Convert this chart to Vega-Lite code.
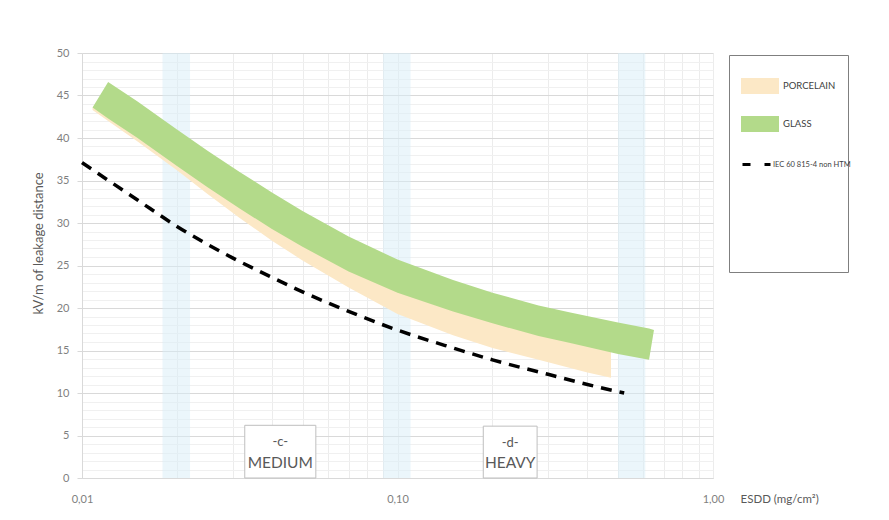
{
  "$schema": "https://vega.github.io/schema/vega-lite/v6.json",
  "width": 631,
  "height": 425,
  "autosize": {"type": "none"},
  "padding": {"left": 82, "top": 53, "right": 176, "bottom": 42},
  "background": "white",
  "config": {
    "view": {"stroke": null},
    "font": "Lato"
  },
  "datasets": {
    "zones": [
      {"x0": 0.018, "x1": 0.022},
      {"x0": 0.09, "x1": 0.11},
      {"x0": 0.5, "x1": 0.61}
    ],
    "porcelain": [
      {"series": "PORCELAIN", "x": 0.0108, "lo": 43.3, "hi": 43.6},
      {"series": "PORCELAIN", "x": 0.0121, "lo": 42.0, "hi": 43.8},
      {"series": "PORCELAIN", "x": 0.015, "lo": 39.6, "hi": 41.5},
      {"series": "PORCELAIN", "x": 0.02, "lo": 36.2, "hi": 38.2},
      {"series": "PORCELAIN", "x": 0.025, "lo": 33.4, "hi": 35.7},
      {"series": "PORCELAIN", "x": 0.0316, "lo": 30.6, "hi": 33.2},
      {"series": "PORCELAIN", "x": 0.04, "lo": 27.9, "hi": 30.8},
      {"series": "PORCELAIN", "x": 0.05, "lo": 25.6, "hi": 28.7},
      {"series": "PORCELAIN", "x": 0.07, "lo": 22.4, "hi": 25.8},
      {"series": "PORCELAIN", "x": 0.1, "lo": 19.3, "hi": 23.3},
      {"series": "PORCELAIN", "x": 0.15, "lo": 16.8, "hi": 21.1},
      {"series": "PORCELAIN", "x": 0.2, "lo": 15.3, "hi": 19.7},
      {"series": "PORCELAIN", "x": 0.28, "lo": 13.9, "hi": 18.2},
      {"series": "PORCELAIN", "x": 0.4, "lo": 12.4, "hi": 16.6},
      {"series": "PORCELAIN", "x": 0.475, "lo": 11.8, "hi": 15.2}
    ],
    "glass": [
      {"series": "GLASS", "x": 0.0108, "lo": 43.6, "hi": 43.6},
      {"series": "GLASS", "x": 0.0121, "lo": 42.3, "hi": 46.6},
      {"series": "GLASS", "x": 0.015, "lo": 40.0, "hi": 44.3},
      {"series": "GLASS", "x": 0.02, "lo": 36.7, "hi": 41.0},
      {"series": "GLASS", "x": 0.025, "lo": 34.2, "hi": 38.5},
      {"series": "GLASS", "x": 0.0316, "lo": 31.7, "hi": 36.0},
      {"series": "GLASS", "x": 0.04, "lo": 29.3, "hi": 33.6},
      {"series": "GLASS", "x": 0.05, "lo": 27.2, "hi": 31.4},
      {"series": "GLASS", "x": 0.07, "lo": 24.3, "hi": 28.4},
      {"series": "GLASS", "x": 0.1, "lo": 21.8, "hi": 25.7},
      {"series": "GLASS", "x": 0.15, "lo": 19.6, "hi": 23.3},
      {"series": "GLASS", "x": 0.2, "lo": 18.2, "hi": 21.8},
      {"series": "GLASS", "x": 0.28, "lo": 16.7, "hi": 20.3},
      {"series": "GLASS", "x": 0.35, "lo": 15.9, "hi": 19.5},
      {"series": "GLASS", "x": 0.5, "lo": 14.6, "hi": 18.3},
      {"series": "GLASS", "x": 0.627, "lo": 13.9, "hi": 17.6},
      {"series": "GLASS", "x": 0.65, "lo": 17.4, "hi": 17.4}
    ],
    "iec": [
      {"series": "IEC 60 815-4 non HTM", "x": 0.01, "y": 37.1},
      {"series": "IEC 60 815-4 non HTM", "x": 0.015, "y": 32.7},
      {"series": "IEC 60 815-4 non HTM", "x": 0.02, "y": 29.6},
      {"series": "IEC 60 815-4 non HTM", "x": 0.03, "y": 25.9},
      {"series": "IEC 60 815-4 non HTM", "x": 0.04, "y": 23.6},
      {"series": "IEC 60 815-4 non HTM", "x": 0.05, "y": 21.9},
      {"series": "IEC 60 815-4 non HTM", "x": 0.07, "y": 19.6},
      {"series": "IEC 60 815-4 non HTM", "x": 0.1, "y": 17.4},
      {"series": "IEC 60 815-4 non HTM", "x": 0.15, "y": 15.3},
      {"series": "IEC 60 815-4 non HTM", "x": 0.2, "y": 13.9},
      {"series": "IEC 60 815-4 non HTM", "x": 0.3, "y": 12.2},
      {"series": "IEC 60 815-4 non HTM", "x": 0.4, "y": 11.0},
      {"series": "IEC 60 815-4 non HTM", "x": 0.523, "y": 10.0}
    ],
    "boxes": [
      {"code": "-c-", "name": "MEDIUM", "x0": 0.0328, "x1": 0.0551, "xc": 0.0425, "y0": 0, "y1": 6.2, "yt": 4.2, "yb": 1.75},
      {"code": "-d-", "name": "HEAVY", "x0": 0.187, "x1": 0.277, "xc": 0.2276, "y0": 0, "y1": 6.1, "yt": 4.1, "yb": 1.75}
    ]
  },
  "layer": [
    {
      "data": {"name": "zones"},
      "mark": {"type": "rect", "fill": "#d8eef7", "opacity": 0.5},
      "encoding": {
        "x": {
          "field": "x0", "type": "quantitative",
          "scale": {"type": "log", "domain": [0.01, 1], "nice": false},
          "axis": {
            "values": [0.01, 0.02, 0.03, 0.04, 0.05, 0.06, 0.07, 0.08, 0.09, 0.1, 0.2, 0.3, 0.4, 0.5, 0.6, 0.7, 0.8, 0.9, 1],
            "tickCount": 100,
            "labelExpr": "abs(log(datum.value)/LN10 - round(log(datum.value)/LN10)) < 0.000001 ? replace(format(datum.value, '.2f'), '.', ',') : ''",
            "labelOverlap": false, "labelFlush": false, "labelBound": false,
            "labelFont": "Lato", "labelFontSize": 11, "labelColor": "#7f7f7f",
            "labelBaseline": "middle", "labelPadding": 21,
            "ticks": false, "tickSize": 0,
            "grid": true, "gridColor": "#ececec", "gridWidth": 1,
            "domainColor": "#d9d9d9", "domainWidth": 1,
            "title": "ESDD (mg/cm²)", "titleFont": "Lato", "titleFontSize": 11.5, "titleFontWeight": "normal", "titleColor": "#595959",
            "titleX": 658, "titleY": 21, "titleAlign": "left", "titleBaseline": "middle"
          }
        },
        "x2": {"field": "x1"}
      }
    },
    {
      "data": {"name": "porcelain"},
      "mark": {"type": "area", "interpolate": "linear", "opacity": 1},
      "encoding": {
        "x": {"field": "x", "type": "quantitative"},
        "y": {
          "field": "lo", "type": "quantitative",
          "scale": {"domain": [0, 50], "nice": false},
          "axis": {
            "values": [0,1,2,3,4,5,6,7,8,9,10,11,12,13,14,15,16,17,18,19,20,21,22,23,24,25,26,27,28,29,30,31,32,33,34,35,36,37,38,39,40,41,42,43,44,45,46,47,48,49,50],
            "tickCount": 100,
            "format": "d",
            "labelExpr": "datum.value % 5 === 0 ? datum.label : ''",
            "labelOverlap": false, "labelFlush": false, "labelBound": false,
            "labelFont": "Lato", "labelFontSize": 11, "labelColor": "#7f7f7f", "labelPadding": 8,
            "ticks": true, "tickSize": 5,
            "tickColor": {"condition": {"test": "datum.value % 5 === 0", "value": "#d9d9d9"}, "value": "transparent"},
            "grid": true,
            "gridColor": {"condition": {"test": "datum.value % 5 === 0", "value": "#d9d9d9"}, "value": "#f0f0f0"},
            "domainColor": "#d9d9d9",
            "title": "kV/m of leakage distance", "titleFont": "Lato", "titleFontSize": 13, "titleFontWeight": "normal", "titleColor": "#595959",
            "titleX": -44, "titleY": 190, "titleAngle": -90, "titleBaseline": "middle", "titleAlign": "center"
          }
        },
        "y2": {"field": "hi"},
        "color": {
          "field": "series", "type": "nominal",
          "scale": {"domain": ["PORCELAIN", "GLASS"], "range": ["#fce8c6", "#b3da8a"]},
          "legend": {
            "orient": "none", "legendX": 647, "legendY": 2,
            "title": " ", "titleOrient": "bottom", "titlePadding": 118, "titleFontSize": 10, "titleFont": "Lato",
            "strokeColor": "#7f7f7f", "fillColor": "white", "padding": 12,
            "symbolType": "M-1,-0.42H1V0.42H-1Z", "symbolSize": 1444, "symbolStrokeWidth": 0, "symbolOpacity": 1,
            "rowPadding": 11, "labelOffset": 4, "labelFont": "Lato", "labelFontSize": 9.5, "labelColor": "#404040", "labelLimit": 300,
            "labelExpr": "datum.label + '\u00a0\u00a0\u00a0\u00a0\u00a0\u00a0\u00a0\u00a0\u00a0\u00a0'"
          }
        }
      }
    },
    {
      "data": {"name": "glass"},
      "mark": {"type": "area", "interpolate": "linear", "opacity": 1},
      "encoding": {
        "x": {"field": "x", "type": "quantitative"},
        "y": {"field": "lo", "type": "quantitative"},
        "y2": {"field": "hi"},
        "color": {"field": "series", "type": "nominal"}
      }
    },
    {
      "data": {"name": "iec"},
      "mark": {"type": "line", "interpolate": "monotone", "color": "#000000", "strokeWidth": 3.5, "strokeDash": [11, 8], "strokeCap": "butt"},
      "encoding": {
        "x": {"field": "x", "type": "quantitative"},
        "y": {"field": "y", "type": "quantitative"},
        "opacity": {
          "field": "series", "type": "ordinal",
          "scale": {"domain": ["IEC 60 815-4 non HTM"], "range": [1]},
          "legend": {
            "orient": "none", "legendX": 647, "legendY": 84,
            "title": null, "padding": 12,
            "symbolType": "stroke", "symbolSize": 784, "symbolStrokeWidth": 3, "symbolStrokeColor": "#000000", "symbolDash": [8, 14],
            "labelOffset": 1, "labelFont": "Lato", "labelFontSize": 7.5, "labelColor": "#404040", "labelLimit": 300
          }
        }
      }
    },
    {
      "data": {"name": "boxes"},
      "mark": {"type": "rect", "fill": "white", "stroke": "#bfbfbf", "strokeWidth": 1},
      "encoding": {
        "x": {"field": "x0", "type": "quantitative"},
        "x2": {"field": "x1"},
        "y": {"field": "y0", "type": "quantitative"},
        "y2": {"field": "y1"}
      }
    },
    {
      "data": {"name": "boxes"},
      "mark": {"type": "text", "font": "Lato", "fontSize": 13, "color": "#595959", "baseline": "middle", "align": "center"},
      "encoding": {
        "x": {"field": "xc", "type": "quantitative"},
        "y": {"field": "yt", "type": "quantitative"},
        "text": {"field": "code"}
      }
    },
    {
      "data": {"name": "boxes"},
      "mark": {"type": "text", "font": "Lato", "fontSize": 15.5, "color": "#595959", "baseline": "middle", "align": "center"},
      "encoding": {
        "x": {"field": "xc", "type": "quantitative"},
        "y": {"field": "yb", "type": "quantitative"},
        "text": {"field": "name"}
      }
    }
  ]
}
